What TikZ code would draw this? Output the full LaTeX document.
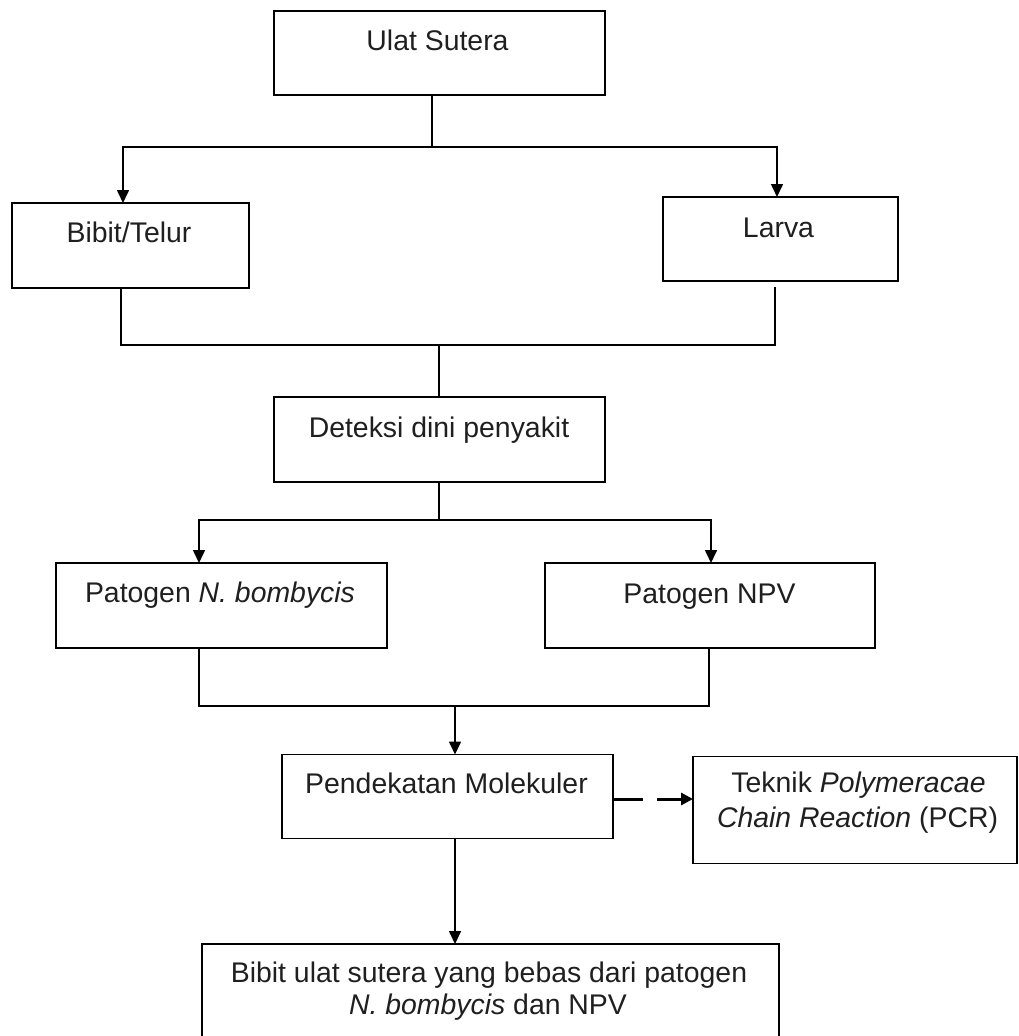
\documentclass[tikz,border=0pt]{standalone}
\usepackage{fontspec}
\setmainfont{Liberation Sans}
\usetikzlibrary{arrows.meta}
\begin{document}
\begin{tikzpicture}[x=1pt,y=-1pt,
  box/.style={draw=black,line width=1.6pt,inner sep=0pt,outer sep=0pt},
  lbl/.style={inner sep=0pt,anchor=base,font=\fontsize{28.4}{34}\selectfont,text=black!88},
  link/.style={line width=1.6pt},
  arr/.style={link,-{Triangle[width=12pt,length=13pt]}},
  arrboth/.style={link,{Triangle[width=12pt,length=13pt]}-{Triangle[width=12pt,length=13pt]}},
  dasharr/.style={line width=3pt,dash pattern=on 30pt off 14pt,-{Triangle[width=12pt,length=12pt]}}]
\fill[white] (0,0) rectangle (1019,1036);
\useasboundingbox (0,0) rectangle (1019,1036);

% boxes
\node[box,minimum width=331pt,minimum height=84pt] (us) at (439.5,53) {};
\node[box,minimum width=237pt,minimum height=85pt] (bibit) at (130.5,245.5) {};
\node[box,minimum width=235pt,minimum height=84pt] (larva) at (780.5,239) {};
\node[box,minimum width=331pt,minimum height=85pt] (det) at (439.5,439.5) {};
\node[box,minimum width=331pt,minimum height=85pt] (patn) at (221.5,605.5) {};
\node[box,minimum width=330pt,minimum height=85pt] (npv) at (710,605.5) {};
\node[box,minimum width=331pt,minimum height=84pt] (pend) at (447.5,796.5) {};
\node[box,minimum width=324pt,minimum height=107pt] (pcr) at (855,810) {};
\node[box,minimum width=577pt,minimum height=96pt] (fin) at (490.5,992) {};

% texts
\node[lbl] (tus) at (437.5,50) {Ulat Sutera};
\node[lbl] (tbibit) at (129,242) {Bibit/Telur};
\node[lbl] (tlarva) at (778.5,237) {Larva};
\node[lbl] (tdet) at (439,437) {Deteksi dini penyakit};
\node[lbl] (tpatn) at (220,602) {Patogen \textit{N. bombycis}};
\node[lbl] (tnpv) at (709.5,603) {Patogen NPV};
\node[lbl] (tpend) at (446.5,793) {Pendekatan Molekuler};
\node[lbl] (tpcra) at (858.5,792) {Teknik \textit{Polymeracae}};
\node[lbl] (tpcrb) at (857.5,827) {\textit{Chain Reaction} (PCR)};
\node[lbl] (tfina) at (489,982) {Bibit ulat sutera yang bebas dari patogen};
\node[lbl] (tfinb) at (488,1014) {\textit{N. bombycis} dan NPV};

% connectors
\coordinate (j1) at (432,147);
\coordinate (j1l) at (123,147);
\coordinate (j1r) at (777,147);
\draw[link] (j1 |- us.south) -- (j1);
\draw[arrboth] (j1l |- bibit.north) -- (j1l) -- (j1r) -- (j1r |- larva.north);

\coordinate (j2) at (439,345);
\coordinate (j2l) at (121,345);
\coordinate (j2r) at (775,345);
\coordinate (j2rt) at (775,287);
\draw[link] (j2l |- bibit.south) -- (j2l) -- (j2r) -- (j2rt);
\draw[link] (j2) -- (j2 |- det.north);

\coordinate (j3) at (439,520);
\coordinate (j3l) at (199,520);
\coordinate (j3r) at (711,520);
\draw[link] (j3 |- det.south) -- (j3);
\draw[arrboth] (j3l |- patn.north) -- (j3l) -- (j3r) -- (j3r |- npv.north);

\coordinate (j4) at (455,706);
\coordinate (j4l) at (199,706);
\coordinate (j4r) at (709,706);
\draw[link] (j4l |- patn.south) -- (j4l) -- (j4r) -- (j4r |- npv.south);
\draw[arr] (j4) -- (j4 |- pend.north);

\coordinate (jd) at (0,799);
\draw[dasharr] (jd -| pend.east) -- (jd -| pcr.west);

\coordinate (j5) at (455,0);
\draw[arr] (j5 |- pend.south) -- (j5 |- fin.north);
\end{tikzpicture}
\end{document}
